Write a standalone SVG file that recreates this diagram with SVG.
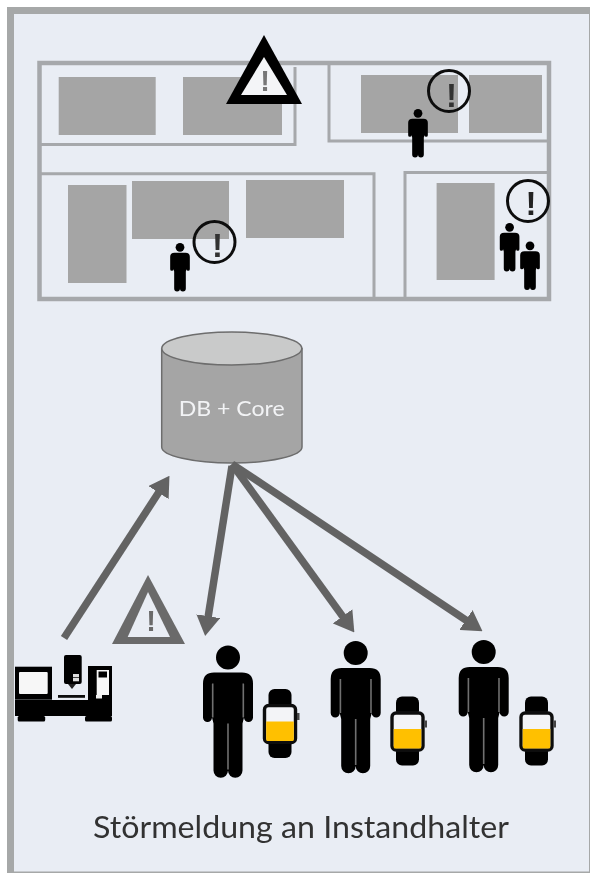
<svg xmlns="http://www.w3.org/2000/svg" xmlns:xlink="http://www.w3.org/1999/xlink" width="590" height="873" viewBox="0 0 590 873">
<style>
.wall{fill:none;stroke:#a6a8ab}
.area{fill:#a5a5a5}
.arrow{fill:none;stroke:#646464;stroke-width:7.5;marker-end:url(#head)}
.bang{font-family:"Liberation Sans",Arial,sans-serif;font-weight:700;text-anchor:middle}
.alert{fill:none;stroke:#111;stroke-width:3}
.gap{stroke:#707070;stroke-width:1.6;fill:none}
.soft{filter:url(#soft)}
</style>
<defs>
<filter id="soft" x="-5%" y="-5%" width="110%" height="110%"><feGaussianBlur stdDeviation="0.45"/></filter>
<marker id="head" markerUnits="userSpaceOnUse" viewBox="0 0 20 24" markerWidth="20" markerHeight="24" refX="1" refY="12" orient="auto">
<polygon points="0,0 20,12 0,24" fill="#646464"/>
</marker>
<g id="person">
<circle cx="0" cy="12" r="12" fill="#000"/>
<path fill="#000" d="M-14,27H14Q25,27 25,38V72a4.5,4.5 0 0 1-9,0L14.5,78V125a7.25,7.25 0 0 1-14.5,0a7.25,7.25 0 0 1-14.5,0V78L-16,72a4.5,4.5 0 0 1-9,0V38Q-25,27 -14,27Z"/>
<path class="gap" d="M15.3,38V72M-15.3,38V72M0,78V124"/>
</g>
<g id="smallperson">
<circle cx="0" cy="12" r="12" fill="#000"/>
<path fill="#000" d="M-15,27H15Q27,27 27,38V72a4.5,4.5 0 0 1-9,0L16,78V125a8,8 0 0 1-16,0a8,8 0 0 1-16,0V78L-18,72a4.5,4.5 0 0 1-9,0V38Q-27,27 -15,27Z"/>
</g>
<g id="watch">
<rect x="-11.5" y="0" width="23" height="20" rx="6" fill="#000"/>
<rect x="-11.5" y="49" width="23" height="20" rx="6" fill="#000"/>
<rect x="-15.5" y="16.5" width="31" height="37" rx="4" fill="#f3f4f7" stroke="#111" stroke-width="3.4"/>
<path fill="#ffc000" d="M-13.8,32.5H13.8V50.5a1.5,1.5 0 0 1-1.5,1.5H-12.3a1.5,1.5 0 0 1-1.5-1.5Z"/>
<rect x="17" y="24" width="2.5" height="7" fill="#444"/>
</g>
</defs>
<rect width="590" height="873" fill="#fff"/>
<g id="frame">
<rect x="10.5" y="10.5" width="585" height="866" fill="#e9edf4" stroke="#a6a8a8" stroke-width="7"/>
<rect x="589" y="7" width="1" height="866" fill="#a6a8a8"/>
<rect x="7" y="871.5" width="583" height="1.5" fill="#a6a8a8"/>
</g>
<g id="floorplan" class="soft">
<rect class="area" x="58.7" y="77" width="97" height="58"/>
<rect class="area" x="183" y="77" width="99" height="58"/>
<rect class="area" x="361" y="75" width="97" height="58"/>
<rect class="area" x="469" y="75" width="73" height="58"/>
<rect class="area" x="68" y="185" width="58.5" height="98"/>
<rect class="area" x="132" y="181" width="97" height="58"/>
<rect class="area" x="246" y="180" width="98" height="58"/>
<rect class="area" x="436.6" y="183" width="58" height="97"/>
<rect class="wall" x="39.5" y="63" width="509.5" height="236" stroke-width="4.5"/>
<path class="wall" stroke-width="3" d="M40,144.5H295V67M329,65V141H548M40,173.7H374V298M405,298V172.5H548"/>
</g>
<g id="main-warning" class="soft">
<polygon points="264,35 226,104 302,104" fill="#000"/>
<polygon points="264,57 241,95 287,95" fill="#f4f5f7"/>
<text class="bang" x="265" y="91" font-size="29" fill="#777">!</text>
</g>
<g id="worker-1" class="soft">
<use xlink:href="#smallperson" href="#smallperson" transform="translate(418,109) scale(.364)"/>
<circle class="alert" cx="449" cy="91" r="20.5"/>
<text class="bang" x="451.5" y="107" font-size="33" fill="#333">!</text>
</g>
<g id="worker-2" class="soft">
<use xlink:href="#smallperson" href="#smallperson" transform="translate(180,243) scale(.364)"/>
<circle class="alert" cx="214.5" cy="242" r="20.5"/>
<text class="bang" x="217.5" y="257" font-size="33" fill="#333">!</text>
</g>
<g id="workers-3" class="soft">
<use xlink:href="#smallperson" href="#smallperson" transform="translate(509.6,223) scale(.364)"/>
<use xlink:href="#smallperson" href="#smallperson" transform="translate(530,241.5) scale(.364)"/>
<circle class="alert" cx="528" cy="201" r="20.5"/>
<text class="bang" x="531" y="215" font-size="33" fill="#222">!</text>
</g>
<g id="database" class="soft">
<path d="M161.7,348.5V447A70,16 0 0 0 302,447V348.5Z" fill="#a5a5a5" stroke="#6d6d6d" stroke-width="1.5"/>
<ellipse cx="231.8" cy="348.5" rx="70" ry="16.5" fill="#c9caca" stroke="#6d6d6d" stroke-width="1.5"/>
<text x="231.7" y="415.5" font-family="Lato,'Open Sans',sans-serif" font-size="21" fill="#f2f3f5" text-anchor="middle" textLength="106" lengthAdjust="spacingAndGlyphs">DB + Core</text>
</g>
<g id="connectors" class="soft">
<line class="arrow" x1="64" y1="638" x2="159.1" y2="491.8"/>
<line class="arrow" x1="232" y1="466" x2="208.1" y2="617.2"/>
<line class="arrow" x1="232" y1="464" x2="343.2" y2="617.1"/>
<line class="arrow" x1="232" y1="464" x2="466.7" y2="620.6"/>
</g>
<g id="machine-warning" class="soft">
<polygon points="148,575 112,644 185,644" fill="#6b6b6b"/>
<polygon points="148,592 127.7,637 170,637" fill="#e9edf4"/>
<text class="bang" x="151" y="631" font-size="29" fill="#6b6b6b">!</text>
</g>
<g id="machine" class="soft">
<rect x="15" y="666.7" width="37" height="33" fill="#000"/>
<rect x="19" y="672" width="28.7" height="22" rx="1" fill="#f7f7f7"/>
<rect x="88" y="666" width="24" height="35" fill="#000"/>
<rect x="96.7" y="670" width="12.3" height="25" fill="#f7f7f7"/>
<rect x="98.5" y="671.5" width="8.5" height="6" fill="#000"/>
<rect x="96" y="695" width="6" height="3.5" fill="#f0f0f0"/>
<rect x="64" y="655" width="17.7" height="29" rx="2" fill="#000"/>
<rect x="73" y="674" width="6" height="3.3" fill="#ddd"/>
<rect x="73" y="678" width="6" height="3.3" fill="#ddd"/>
<polygon points="68,684 76,684 72,689" fill="#222"/>
<rect x="58" y="695" width="27" height="2.8" fill="#111"/>
<rect x="15" y="700" width="97" height="16" fill="#000"/>
<rect x="17.7" y="716" width="27.5" height="5.5" rx="1.5" fill="#000"/>
<rect x="85" y="716" width="27" height="5.5" rx="1.5" fill="#000"/>
</g>
<g id="technician-1" class="soft">
<use xlink:href="#person" href="#person" transform="translate(228,645.5)"/>
<use xlink:href="#watch" href="#watch" transform="translate(280,689)"/>
</g>
<g id="technician-2" class="soft">
<use xlink:href="#person" href="#person" transform="translate(355.7,641)"/>
<use xlink:href="#watch" href="#watch" transform="translate(407.5,696.5)"/>
</g>
<g id="technician-3" class="soft">
<use xlink:href="#person" href="#person" transform="translate(483.7,640)"/>
<use xlink:href="#watch" href="#watch" transform="translate(536.5,696.5)"/>
</g>
<text id="caption" class="soft" x="93" y="838" font-family="Lato,'Open Sans',sans-serif" font-size="30" fill="#333" textLength="416" lengthAdjust="spacingAndGlyphs">Störmeldung an Instandhalter</text>
</svg>
